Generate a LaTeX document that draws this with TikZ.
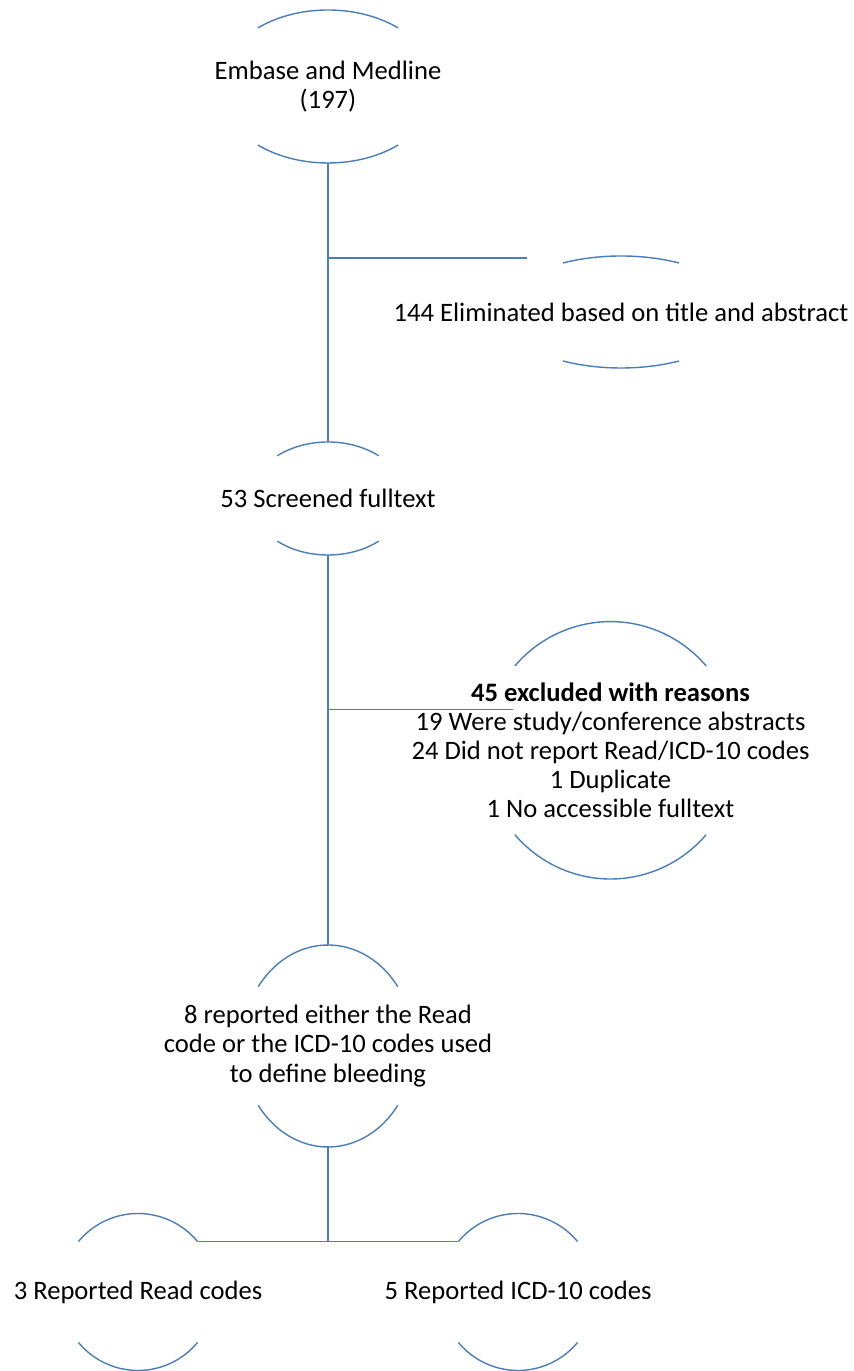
\documentclass[tikz,border=0pt]{standalone}
\usepackage{fontspec}
\setmainfont{Carlito}
\usepackage{xcolor}
\definecolor{ovalblue}{HTML}{4A7EBB}

% top and bottom caps of an oval round a text node
% #1 node, #2 x radius, #3 y radius, #4 cut angle
\newcommand{\ovalcaps}[4]{
    \draw[flowline] ([shift={(#4:#2 and #3)}]#1.center)
        arc[start angle=#4, end angle=180-#4, x radius=#2, y radius=#3];
    \draw[flowline] ([shift={(-#4:#2 and #3)}]#1.center)
        arc[start angle=-#4, end angle=-180+#4, x radius=#2, y radius=#3];
    \coordinate (#1-top) at ([yshift=#3]#1.center);
    \coordinate (#1-bot) at ([yshift=-#3]#1.center);
    \coordinate (#1-ne) at ([shift={(#4:#2 and #3)}]#1.center);
    \coordinate (#1-nw) at ([shift={(180-#4:#2 and #3)}]#1.center);
}

\begin{document}
\begin{tikzpicture}[x=1pt, y=1pt,
    flowline/.style={draw=ovalblue, line width=0.7pt},
    label/.style={align=center, inner sep=0pt,
        font=\fontsize{13.3}{14.6}\selectfont}]
    \useasboundingbox (0, 0) rectangle (427, 685.5);

    % Textos
    \node[label] (embase) at (164, 642.25) {Embase and Medline\\(197)};
    \node[label] (elim) at (310.5, 529.5) {144 Eliminated based on title and abstract};
    \node[label] (screen) at (164, 436.25) {53 Screened fulltext};
    \node[label] (excl) at (305.25, 310.35) {\textbf{45 excluded with reasons}\\
        19 Were study/conference abstracts\\24 Did not report Read/ICD-10 codes\\
        1 Duplicate\\1 No accessible fulltext};
    \node[label] (report) at (164, 162.5) {8 reported either the Read\\
        code or the ICD-10 codes used\\to define bleeding};
    \node[label] (read) at (69, 39.5) {3 Reported Read codes};
    \node[label] (icd) at (259, 39.5) {5 Reported ICD-10 codes};

    % Ovais
    \ovalcaps{embase}{54.5}{38.25}{50}
    \ovalcaps{elim}{59.9}{28}{61}
    \ovalcaps{screen}{38.7}{28.25}{49}
    \ovalcaps{excl}{63.35}{64.35}{41}
    \ovalcaps{report}{43.1}{50.5}{36}
    \ovalcaps{read}{38.9}{39.25}{40}
    \ovalcaps{icd}{38.9}{39.25}{40}

    % Ligacoes
    \coordinate (elimend) at (263.5, 556.5);
    \coordinate (exclend) at (256.5, 330.85);
    \draw[flowline] (embase-bot) -- (screen-top);
    \draw[flowline] (elimend -| embase-bot) -- (elimend);
    \draw[flowline] (screen-bot) -- (report-top);
    \draw[flowline] (exclend -| screen-bot) -- (exclend);
    \draw[flowline] (report-bot) -- (report-bot |- read-ne);
    \draw[flowline] (read-ne) -- (icd-nw);
\end{tikzpicture}
\end{document}
